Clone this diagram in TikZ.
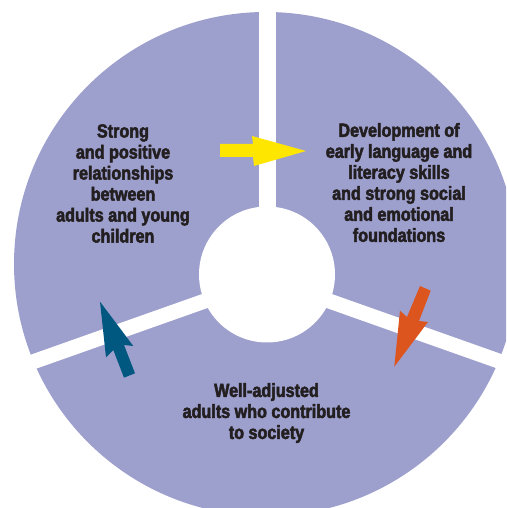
\documentclass[tikz,border=0pt]{standalone}
\usepackage{fontspec}
\usepackage{xcolor}
\usetikzlibrary{positioning}
\newfontfamily\lblfont{Liberation Sans}[FakeStretch=0.85,BoldFeatures={FakeBold=2.6}]
\definecolor{ringblue}{RGB}{157,159,205}
\definecolor{arrowyellow}{RGB}{255,230,0}
\definecolor{arrowteal}{RGB}{0,88,128}
\definecolor{arroworange}{RGB}{220,85,30}
\definecolor{lbltext}{RGB}{35,31,32}

\begin{document}
\begin{tikzpicture}[
  x=1pt,y=1pt,
  lbl/.style={align=center,inner sep=0pt,text=lbltext,
    font=\lblfont\bfseries\fontsize{19}{21}\selectfont},
  gap/.style={white,line width=#1,line cap=butt},
  gap/.default=15pt
]
\useasboundingbox (0,0) rectangle (506,508);
\clip (0,0) rectangle (506,508);
% ring and the three white cuts
\fill[ringblue] (266,244) circle (252);
\coordinate (hub) at (267,229);
\draw[gap=17pt] (267.5,229) -- (267.5,530);
\draw[gap] (hub) -- ++(199.5:320);
\draw[gap] (hub) -- ++(340.5:320);
\fill[white] (267,233.5) circle (68);
% block arrows
\fill[arrowyellow] (220,364) -- (253,364) -- (252,372) -- (306,357)
  -- (254,342) -- (253,351) -- (220,351) -- cycle;
\fill[arroworange] (420,222) -- (430.7,217.3) -- (419,187) -- (428,186)
  -- (394.3,141.3) -- (400,197.3) -- (407,191) -- cycle;
\fill[arrowteal] (100,206.3) -- (133.3,162) -- (124,163) -- (135,134.7)
  -- (124,130.3) -- (113.3,158) -- (106,150.7) -- cycle;
% labels
\node[lbl] (bond) at (123,324.5) {Strong\\and positive\\relationships\\between\\adults and young\\children};
\node[lbl] (skills) at (399,325.5) {Development of\\early language and\\literacy skills\\and strong social\\and emotional\\foundations};
\node[lbl] (adults) at (266.5,95) {Well-adjusted\\adults who contribute\\to society};
\end{tikzpicture}
\end{document}
